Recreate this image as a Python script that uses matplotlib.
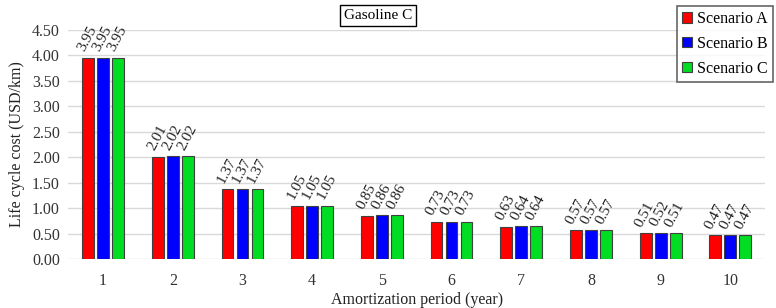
import numpy as np
import matplotlib.pyplot as plt

plt.rcParams['font.family'] = ['Liberation Serif', 'DejaVu Serif']

periods = ['1', '2', '3', '4', '5', '6', '7', '8', '9', '10']
scenario_a = [3.95, 2.01, 1.37, 1.05, 0.85, 0.73, 0.63, 0.57, 0.51, 0.47]
scenario_b = [3.95, 2.02, 1.37, 1.05, 0.86, 0.73, 0.64, 0.57, 0.52, 0.47]
scenario_c = [3.95, 2.02, 1.37, 1.05, 0.86, 0.73, 0.64, 0.57, 0.51, 0.47]
series_names = ['Scenario A', 'Scenario B', 'Scenario C']
colors = ['#ff0000', '#0000ff', '#00dd22']

fig = plt.figure(figsize=(7.76, 3.08), dpi=100)
ax = fig.add_axes([0.088, 0.159, 0.898, 0.744])

x = np.arange(len(periods))
width = 0.17
step = 0.215
for i, (vals, name, c) in enumerate(zip([scenario_a, scenario_b, scenario_c], series_names, colors)):
    pos = x + (i - 1) * step
    ax.bar(pos, vals, width, color=c, edgecolor='#404040', linewidth=0.8, label=name, zorder=3)
    for px, v in zip(pos, vals):
        ax.text(px - 0.1, v + 0.14, '%.2f' % v, rotation=62, rotation_mode='anchor',
                ha='left', va='center', fontsize=11, color='#222222')

ax.set_xlim(-0.5, len(periods) - 0.5)
ax.set_ylim(0, 4.5)
ax.set_yticks(np.arange(0, 4.51, 0.5))
ax.set_yticklabels(['%.2f' % t for t in np.arange(0, 4.51, 0.5)])
ax.set_xticks(x)
ax.set_xticklabels(periods)
ax.grid(axis='y', color='#d9d9d9', linewidth=1, zorder=0)
for s in ['top', 'right', 'left', 'bottom']:
    ax.spines[s].set_visible(False)
ax.tick_params(length=0, labelsize=11.5, colors='#333333')
ax.tick_params(axis='x', pad=10)
ax.tick_params(axis='y', pad=6)
ax.set_xlabel('Amortization period (year)', fontsize=11.5, color='#222222', labelpad=2)
ax.set_ylabel('Life cycle cost (USD/km)', fontsize=11.5, color='#222222', labelpad=5)

fig.text(0.487, 0.95, 'Gasoline C', ha='center', va='center', fontsize=11,
         bbox=dict(facecolor='white', edgecolor='black', linewidth=1, boxstyle='square,pad=0.25'))

leg = ax.legend(loc='upper right', bbox_to_anchor=(0.996, 0.982), bbox_transform=fig.transFigure,
                fontsize=11.5, frameon=True, fancybox=False, edgecolor='#404040',
                handlelength=0.6, handleheight=0.6, handletextpad=0.3, borderpad=0.35,
                labelspacing=0.55, borderaxespad=0)
leg.get_frame().set_linewidth(1.2)

fig.savefig('out.png', dpi=100)
